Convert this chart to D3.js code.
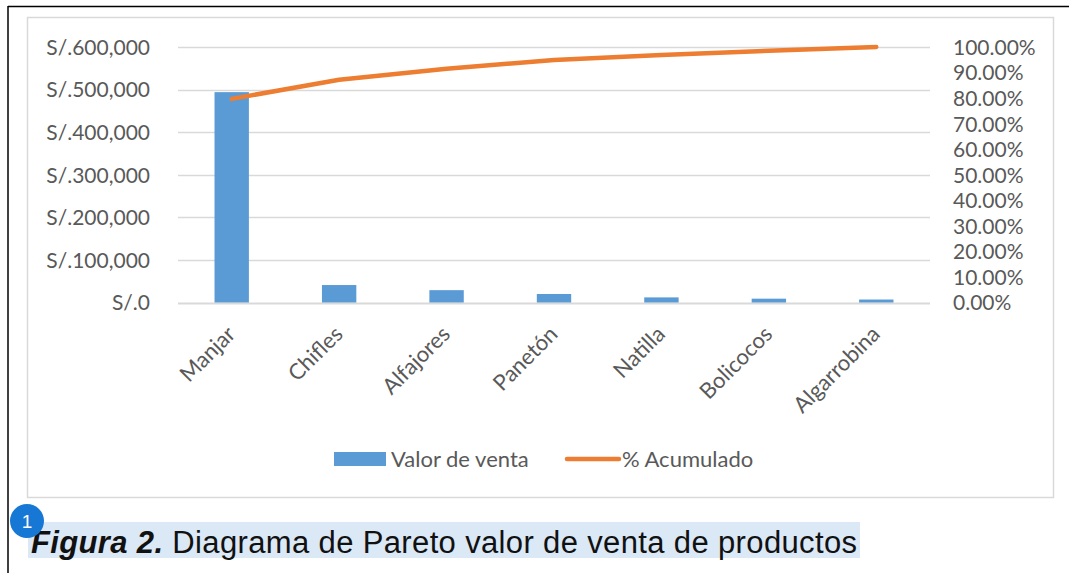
<!DOCTYPE html>
<html>
<head>
<meta charset="utf-8">
<script src="https://cdn.jsdelivr.net/npm/d3@7"></script>
<style>
  html, body { margin: 0; padding: 0; background: #fff; }
  svg { display: block; }
</style>
</head>
<body>
<div id="chart"></div>
<script>
// datos
const productos = ["Manjar", "Chifles", "Alfajores", "Panetón", "Natilla", "Bolicocos", "Algarrobina"];
const valorVenta = [494000, 41000, 29000, 20000, 12000, 9000, 7000];
const pctAcumulado = [0.797, 0.872, 0.915, 0.949, 0.969, 0.985, 1.0];
const ticksVenta = [0, 100000, 200000, 300000, 400000, 500000, 600000];
const ticksPct = [0, 0.1, 0.2, 0.3, 0.4, 0.5, 0.6, 0.7, 0.8, 0.9, 1.0];

const W = 1069, H = 573;
const BLUE = "#5b9bd5", ORANGE = "#ed7d31", GRID = "#d9d9d9", TXT = "#595959";
const chartFont = "Lato, 'Open Sans', sans-serif";
const fs = "21px";

const svg = d3.select("#chart").append("svg")
  .attr("width", W)
  .attr("height", H);

// marco exterior (documento)
svg.append("line").attr("x1", 8).attr("x2", W).attr("y1", 6.5).attr("y2", 6.5)
  .attr("stroke", "#000").attr("stroke-width", 1.5);
svg.append("line").attr("x1", 8).attr("x2", 8).attr("y1", 6).attr("y2", H)
  .attr("stroke", "#000").attr("stroke-width", 1.5);

// area del grafico
svg.append("rect")
  .attr("x", 27.5).attr("y", 17.5)
  .attr("width", 1026).attr("height", 480)
  .attr("fill", "#fff")
  .attr("stroke", GRID).attr("stroke-width", 1.5);

const plot = { left: 178, right: 930, top: 47, bottom: 302.5 };

const x = d3.scaleBand()
  .domain(productos)
  .range([plot.left, plot.right])
  .paddingInner(0.68)
  .paddingOuter(0.34);

const y = d3.scaleLinear().domain([0, 600000]).range([plot.bottom, plot.top]);
const y2 = d3.scaleLinear().domain([0, 1]).range([plot.bottom, plot.top]);

// lineas de cuadricula
svg.append("g").selectAll("line")
  .data(ticksVenta)
  .enter().append("line")
  .attr("x1", plot.left).attr("x2", plot.right)
  .attr("y1", d => Math.round(y(d)) + 0.5)
  .attr("y2", d => Math.round(y(d)) + 0.5)
  .attr("stroke", GRID)
  .attr("stroke-width", d => d === 0 ? 2 : 1.5);

// eje izquierdo
const fmtSoles = d3.format(",");
const axL = svg.append("g")
  .attr("transform", `translate(${plot.left - 28},0)`)
  .call(d3.axisLeft(y).tickValues(ticksVenta).tickSize(0).tickPadding(0)
    .tickFormat(d => "S/." + fmtSoles(d)));
axL.select(".domain").remove();
axL.selectAll("text")
  .attr("font-family", chartFont).attr("font-size", fs).attr("fill", TXT)
  .attr("dy", "0.35em");

// eje derecho
const axR = svg.append("g")
  .attr("transform", `translate(${plot.right + 23},0)`)
  .call(d3.axisRight(y2).tickValues(ticksPct).tickSize(0).tickPadding(0)
    .tickFormat(d3.format(".2%")));
axR.select(".domain").remove();
axR.selectAll("text")
  .attr("font-family", chartFont).attr("font-size", fs).attr("fill", TXT)
  .attr("dy", "0.35em");

// etiquetas de categoria
svg.append("g").selectAll("text")
  .data(productos)
  .enter().append("text")
  .attr("transform", d => `translate(${x(d) + x.bandwidth() / 2 + 5},${plot.bottom + 33}) rotate(-45)`)
  .attr("text-anchor", "end")
  .attr("font-family", chartFont).attr("font-size", "22px").attr("fill", TXT)
  .text(d => d);

// barras
svg.append("g").selectAll("rect")
  .data(productos)
  .enter().append("rect")
  .attr("x", d => x(d))
  .attr("width", x.bandwidth())
  .attr("y", (d, i) => y(valorVenta[i]))
  .attr("height", (d, i) => plot.bottom - y(valorVenta[i]))
  .attr("fill", BLUE);

// linea de porcentaje acumulado
const linea = d3.line()
  .x((d, i) => x(productos[i]) + x.bandwidth() / 2)
  .y(d => y2(d));

svg.append("path")
  .datum(pctAcumulado)
  .attr("d", linea)
  .attr("fill", "none")
  .attr("stroke", ORANGE)
  .attr("stroke-width", 4.5)
  .attr("stroke-linecap", "round")
  .attr("stroke-linejoin", "round");

// leyenda
const leg = svg.append("g").attr("font-family", chartFont).attr("font-size", "22px").attr("fill", TXT);
leg.append("rect").attr("x", 334).attr("y", 452).attr("width", 52).attr("height", 14).attr("fill", BLUE);
leg.append("text").attr("x", 391).attr("y", 467).text("Valor de venta");
leg.append("line").attr("x1", 567).attr("x2", 619).attr("y1", 459).attr("y2", 459)
  .attr("stroke", ORANGE).attr("stroke-width", 4.5).attr("stroke-linecap", "round");
leg.append("text").attr("x", 622).attr("y", 467).text("% Acumulado");

// pie de figura
svg.append("rect")
  .attr("x", 28).attr("y", 522)
  .attr("width", 832).attr("height", 36)
  .attr("fill", "#dbe8f6");

const cap = svg.append("text")
  .attr("x", 31).attr("y", 553)
  .attr("font-family", "'Liberation Sans', Arial, sans-serif")
  .attr("font-size", "31px")
  .attr("textLength", 826)
  .attr("fill", "#111");
cap.append("tspan").attr("font-weight", "bold").attr("font-style", "italic").text("Figura 2.");
cap.append("tspan").text(" Diagrama de Pareto valor de venta de productos");

svg.append("circle").attr("cx", 27).attr("cy", 521).attr("r", 17).attr("fill", "#1777d4");
svg.append("text")
  .attr("x", 27).attr("y", 528)
  .attr("text-anchor", "middle")
  .attr("font-family", "'Liberation Sans', Arial, sans-serif")
  .attr("font-size", "19px")
  .attr("fill", "#fff")
  .text("1");
</script>
</body>
</html>
